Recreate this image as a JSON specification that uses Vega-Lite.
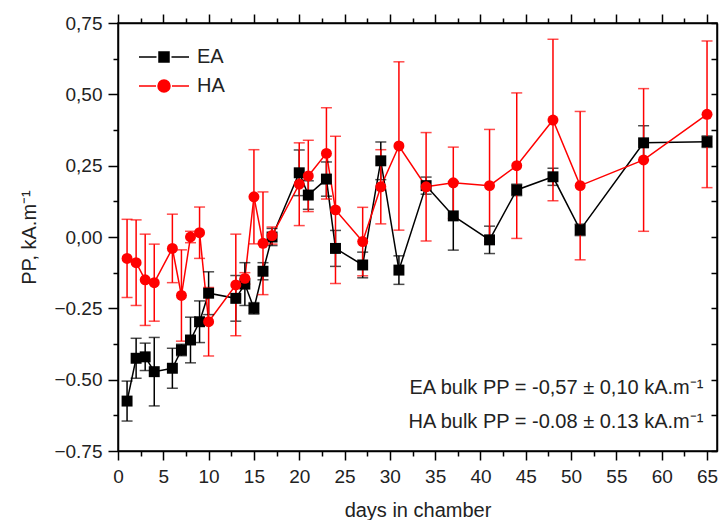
{
  "$schema": "https://vega.github.io/schema/vega-lite/v6.json",
  "autosize": {"type": "none"},
  "padding": {"left": 118, "top": 23, "right": 2, "bottom": 69},
  "width": 599,
  "height": 428,
  "config": {
    "font": "Liberation Sans",
    "view": {"stroke": "black", "strokeWidth": 1.5},
    "axis": {
      "domainColor": "black", "domainWidth": 1.5, "tickColor": "black", "tickWidth": 1.5,
      "labelColor": "#222", "labelFont": "Liberation Sans", "labelFontSize": 19,
      "titleColor": "#222", "titleFont": "Liberation Sans", "titleFontSize": 20, "titleFontWeight": "normal",
      "grid": false
    }
  },
  "datasets": {
    "pp": [
      {"series": "EA", "day": 1, "pp": -0.575, "lo": -0.645, "hi": -0.505},
      {"series": "EA", "day": 2, "pp": -0.425, "lo": -0.495, "hi": -0.355},
      {"series": "EA", "day": 3, "pp": -0.42, "lo": -0.468, "hi": -0.372},
      {"series": "EA", "day": 4, "pp": -0.472, "lo": -0.592, "hi": -0.352},
      {"series": "EA", "day": 6, "pp": -0.46, "lo": -0.53, "hi": -0.39},
      {"series": "EA", "day": 7, "pp": -0.396, "lo": -0.416, "hi": -0.376},
      {"series": "EA", "day": 8, "pp": -0.361, "lo": -0.441, "hi": -0.281},
      {"series": "EA", "day": 9, "pp": -0.297, "lo": -0.37, "hi": -0.224},
      {"series": "EA", "day": 10, "pp": -0.197, "lo": -0.272, "hi": -0.122},
      {"series": "EA", "day": 13, "pp": -0.215, "lo": -0.295, "hi": -0.135},
      {"series": "EA", "day": 14, "pp": -0.165, "lo": -0.24, "hi": -0.09},
      {"series": "EA", "day": 15, "pp": -0.25, "lo": -0.27, "hi": -0.23},
      {"series": "EA", "day": 16, "pp": -0.12, "lo": -0.15, "hi": -0.09},
      {"series": "EA", "day": 17, "pp": 0.0, "lo": -0.03, "hi": 0.03},
      {"series": "EA", "day": 20, "pp": 0.225, "lo": 0.145, "hi": 0.305},
      {"series": "EA", "day": 21, "pp": 0.147, "lo": 0.097, "hi": 0.197},
      {"series": "EA", "day": 23, "pp": 0.203, "lo": 0.143, "hi": 0.263},
      {"series": "EA", "day": 24, "pp": -0.04, "lo": -0.103, "hi": 0.023},
      {"series": "EA", "day": 27, "pp": -0.098, "lo": -0.143, "hi": -0.053},
      {"series": "EA", "day": 29, "pp": 0.267, "lo": 0.201, "hi": 0.333},
      {"series": "EA", "day": 31, "pp": -0.116, "lo": -0.166, "hi": -0.066},
      {"series": "EA", "day": 34, "pp": 0.18, "lo": 0.15, "hi": 0.21},
      {"series": "EA", "day": 37, "pp": 0.074, "lo": -0.046, "hi": 0.194},
      {"series": "EA", "day": 41, "pp": -0.01, "lo": -0.058, "hi": 0.038},
      {"series": "EA", "day": 44, "pp": 0.165, "lo": 0.145, "hi": 0.185},
      {"series": "EA", "day": 48, "pp": 0.211, "lo": 0.181, "hi": 0.241},
      {"series": "EA", "day": 51, "pp": 0.025, "lo": 0.005, "hi": 0.045},
      {"series": "EA", "day": 58, "pp": 0.33, "lo": 0.27, "hi": 0.39},
      {"series": "EA", "day": 65, "pp": 0.334, "lo": 0.314, "hi": 0.354},
      {"series": "HA", "day": 1, "pp": -0.075, "lo": -0.212, "hi": 0.062},
      {"series": "HA", "day": 2, "pp": -0.09, "lo": -0.24, "hi": 0.06},
      {"series": "HA", "day": 3, "pp": -0.15, "lo": -0.31, "hi": 0.01},
      {"series": "HA", "day": 4, "pp": -0.16, "lo": -0.295, "hi": -0.025},
      {"series": "HA", "day": 6, "pp": -0.04, "lo": -0.16, "hi": 0.08},
      {"series": "HA", "day": 7, "pp": -0.205, "lo": -0.365, "hi": -0.045},
      {"series": "HA", "day": 8, "pp": 0.0, "lo": -0.02, "hi": 0.02},
      {"series": "HA", "day": 9, "pp": 0.015, "lo": -0.075, "hi": 0.105},
      {"series": "HA", "day": 10, "pp": -0.297, "lo": -0.417, "hi": -0.177},
      {"series": "HA", "day": 13, "pp": -0.168, "lo": -0.346, "hi": 0.01},
      {"series": "HA", "day": 14, "pp": -0.145, "lo": -0.165, "hi": -0.125},
      {"series": "HA", "day": 15, "pp": 0.141, "lo": -0.024, "hi": 0.306},
      {"series": "HA", "day": 16, "pp": -0.022, "lo": -0.202, "hi": 0.158},
      {"series": "HA", "day": 17, "pp": 0.005, "lo": -0.025, "hi": 0.035},
      {"series": "HA", "day": 20, "pp": 0.185, "lo": 0.04, "hi": 0.33},
      {"series": "HA", "day": 21, "pp": 0.214, "lo": 0.089, "hi": 0.339},
      {"series": "HA", "day": 23, "pp": 0.293, "lo": 0.133, "hi": 0.453},
      {"series": "HA", "day": 24, "pp": 0.095, "lo": -0.163, "hi": 0.353},
      {"series": "HA", "day": 27, "pp": -0.016, "lo": -0.136, "hi": 0.104},
      {"series": "HA", "day": 29, "pp": 0.176, "lo": 0.046, "hi": 0.306},
      {"series": "HA", "day": 31, "pp": 0.319, "lo": 0.024, "hi": 0.614},
      {"series": "HA", "day": 34, "pp": 0.176, "lo": -0.014, "hi": 0.366},
      {"series": "HA", "day": 37, "pp": 0.19, "lo": 0.065, "hi": 0.315},
      {"series": "HA", "day": 41, "pp": 0.18, "lo": -0.017, "hi": 0.377},
      {"series": "HA", "day": 44, "pp": 0.25, "lo": -0.005, "hi": 0.505},
      {"series": "HA", "day": 48, "pp": 0.41, "lo": 0.127, "hi": 0.693},
      {"series": "HA", "day": 51, "pp": 0.18, "lo": -0.08, "hi": 0.44},
      {"series": "HA", "day": 58, "pp": 0.27, "lo": 0.02, "hi": 0.52},
      {"series": "HA", "day": 65, "pp": 0.43, "lo": 0.173, "hi": 0.687}
    ]
  },
  "data": {"name": "pp"},
  "resolve": {"axis": {"x": "independent", "y": "independent"}},
  "layer": [
    {
      "mark": {"type": "line", "strokeWidth": 1.5},
      "encoding": {
        "x": {
          "field": "day", "type": "quantitative",
          "scale": {"domain": [0, 66.1], "nice": false, "zero": false},
          "axis": {
            "orient": "bottom", "title": "days in chamber", "titlePadding": 14,
            "values": [0,2.5,5,7.5,10,12.5,15,17.5,20,22.5,25,27.5,30,32.5,35,37.5,40,42.5,45,47.5,50,52.5,55,57.5,60,62.5,65],
            "labelExpr": "datum.value % 5 === 0 ? datum.label : ''",
            "tickSize": {"condition": {"test": "datum.value % 5 === 0", "value": 9}, "value": 5},
            "labelPadding": 7, "labelFlush": false, "labelOverlap": false
          }
        },
        "y": {
          "field": "pp", "type": "quantitative",
          "scale": {"domain": [-0.75, 0.75], "nice": false, "zero": false},
          "axis": {
            "orient": "left", "title": "PP, kA.m⁻¹", "titlePadding": 14,
            "values": [-0.75,-0.625,-0.5,-0.375,-0.25,-0.125,0,0.125,0.25,0.375,0.5,0.625,0.75],
            "labelExpr": "abs(datum.value * 4 - round(datum.value * 4)) < 0.001 ? (datum.value < 0 ? format(datum.value, '.2f') : replace(format(datum.value, '.2f'), '.', ',')) : ''",
            "tickSize": {"condition": {"test": "abs(datum.value * 4 - round(datum.value * 4)) < 0.001", "value": 10}, "value": 5},
            "labelPadding": 6, "labelFlush": false, "labelOverlap": false
          }
        },
        "color": {
          "field": "series", "type": "nominal",
          "scale": {"domain": ["EA", "HA"], "range": ["black", "#ff0000"]},
          "legend": {
            "orient": "none", "legendX": 35, "legendY": 23, "title": null,
            "symbolSize": 400, "symbolStrokeWidth": 1.5, "symbolType": "square",
            "labelFontSize": 20, "labelFont": "Liberation Sans", "labelColor": "#222",
            "labelOffset": 22, "rowPadding": 8, "padding": 0,
            "encode": {
              "symbols": {
                "update": {
                  "shape": {"signal": "datum.value === 'EA' ? 'M-2.5,0H-0.75M0.75,0H2.5M-0.5,-0.5H0.5V0.5H-0.5Z' : 'M-2.5,0H-0.8M0.8,0H2.5M0.6,0A0.6,0.6,0,1,1,-0.6,0A0.6,0.6,0,1,1,0.6,0Z'"},
                  "fill": {"signal": "datum.value === 'EA' ? 'black' : '#ff0000'"},
                  "stroke": {"signal": "datum.value === 'EA' ? 'black' : '#ff0000'"},
                  "fillOpacity": {"value": 1},
                  "strokeWidth": {"value": 1.5}
                }
              }
            }
          }
        }
      }
    },
    {
      "mark": {"type": "errorbar", "ticks": {"size": 11, "thickness": 1.5}, "rule": {"strokeWidth": 1.5}},
      "encoding": {
        "x": {"field": "day", "type": "quantitative", "axis": null},
        "y": {"field": "lo", "type": "quantitative", "axis": null},
        "y2": {"field": "hi"},
        "color": {"field": "series", "type": "nominal", "legend": null}
      }
    },
    {
      "transform": [{"filter": "datum.series === 'EA'"}],
      "mark": {"type": "square", "size": 120, "opacity": 1},
      "encoding": {
        "x": {
          "field": "day", "type": "quantitative",
          "axis": {"orient": "top", "title": null, "labels": false,
            "values": [0,2.5,5,7.5,10,12.5,15,17.5,20,22.5,25,27.5,30,32.5,35,37.5,40,42.5,45,47.5,50,52.5,55,57.5,60,62.5,65],
            "tickSize": {"condition": {"test": "datum.value % 5 === 0", "value": 9}, "value": 5}}
        },
        "y": {
          "field": "pp", "type": "quantitative",
          "axis": {"orient": "right", "title": null, "labels": false,
            "values": [-0.75,-0.625,-0.5,-0.375,-0.25,-0.125,0,0.125,0.25,0.375,0.5,0.625,0.75],
            "tickSize": -6}
        },
        "color": {"field": "series", "type": "nominal", "legend": null}
      }
    },
    {
      "transform": [{"filter": "datum.series === 'HA'"}],
      "mark": {"type": "circle", "size": 120, "opacity": 1},
      "encoding": {
        "x": {"field": "day", "type": "quantitative", "axis": null},
        "y": {"field": "pp", "type": "quantitative", "axis": null},
        "color": {"field": "series", "type": "nominal", "legend": null}
      }
    },
    {
      "data": {"values": [{"note": "EA bulk PP = -0,57 ± 0,10 kA.m⁻¹"}]},
      "mark": {"type": "text", "align": "right", "baseline": "middle", "fontSize": 20, "font": "Liberation Sans", "color": "#222"},
      "encoding": {
        "text": {"field": "note"},
        "x": {"datum": 64.6, "type": "quantitative", "axis": null},
        "y": {"datum": -0.53, "type": "quantitative", "axis": null}
      }
    },
    {
      "data": {"values": [{"note": "HA bulk PP = -0.08 ± 0.13 kA.m⁻¹"}]},
      "mark": {"type": "text", "align": "right", "baseline": "middle", "fontSize": 20, "font": "Liberation Sans", "color": "#222"},
      "encoding": {
        "text": {"field": "note"},
        "x": {"datum": 64.6, "type": "quantitative", "axis": null},
        "y": {"datum": -0.65, "type": "quantitative", "axis": null}
      }
    }
  ]
}
